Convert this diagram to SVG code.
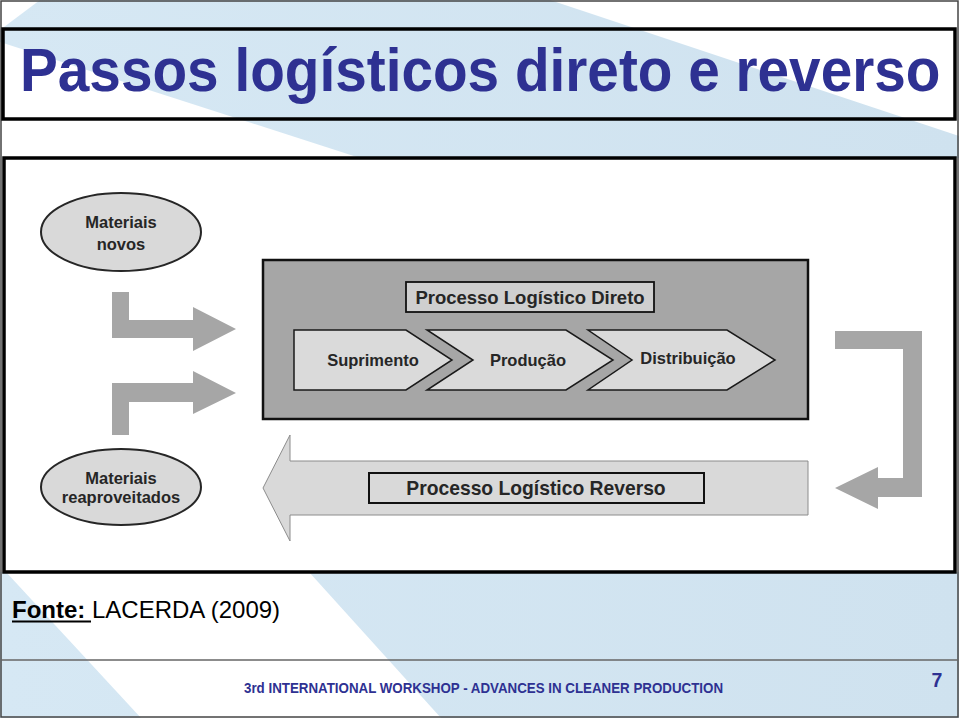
<svg xmlns="http://www.w3.org/2000/svg" width="959" height="718" viewBox="0 0 959 718">
<defs>
<linearGradient id="bg" x1="0" y1="0" x2="1" y2="0">
<stop offset="0" stop-color="#d6e8f4"/>
<stop offset="1" stop-color="#cfe2ef"/>
</linearGradient>
</defs>
<style>
.dk{font-family:"Liberation Sans",Arial,sans-serif;font-weight:bold;fill:#262626;text-anchor:middle}
.flow{fill:#a6a6a6;stroke:none}
.chev{fill:#dadada;stroke:#1a1a1a;stroke-width:1.5}
.ell{fill:#d9d9d9;stroke:#262626;stroke-width:2}
.frame{fill:none;stroke:#000;stroke-width:3.5}
</style>
<rect x="0" y="0" width="959" height="718" fill="#fff"/>
<g id="background">
<polygon points="40,0 550,0 959,136 959,158 360,158 0,42 0,30" fill="url(#bg)"/>
<rect x="0" y="572" width="959" height="146" fill="url(#bg)"/>
<polygon points="6,572 309,572 441,718 141,718" fill="#fff"/>
<rect x="1" y="1" width="957" height="716" fill="none" stroke="#444" stroke-width="1.5"/>
<line x1="1" y1="660" x2="958" y2="660" stroke="#666" stroke-width="1.5"/>
</g>
<g id="title">
<rect x="3" y="29" width="952" height="90" class="frame" stroke-width="3"/>
<text transform="translate(20,91) scale(0.93,1)" x="0" y="0" font-family="'Liberation Sans',Arial,sans-serif" font-weight="bold" font-size="61" fill="#2e3192">Passos logísticos direto e reverso</text>
</g>
<g id="figure">
<rect x="4" y="158" width="951" height="414" fill="#fff" class="frame"/>
</g>
<g id="materiais-novos">
<ellipse cx="121" cy="232" rx="80" ry="39" class="ell"/>
<text class="dk" x="121" y="228" font-size="16.5">Materiais</text>
<text class="dk" x="121" y="250" font-size="16.5">novos</text>
</g>
<g id="materiais-reaproveitados">
<ellipse cx="121" cy="487" rx="80" ry="38" class="ell"/>
<text class="dk" x="121" y="484" font-size="16.5">Materiais</text>
<text class="dk" x="121" y="503" font-size="16.5">reaproveitados</text>
</g>
<g id="processo-direto">
<rect x="263" y="260" width="545" height="159" fill="#a6a6a6" stroke="#111" stroke-width="2.5"/>
<rect x="406" y="282" width="248" height="30" fill="#cfcfcf" stroke="#111" stroke-width="1.8"/>
<text class="dk" x="530" y="304" font-size="18.5">Processo Logístico Direto</text>
</g>
<g id="suprimento">
<polygon class="chev" points="294,330 406,330 452,360 406,390 294,390"/>
<text class="dk" x="373" y="366" font-size="16.5">Suprimento</text>
</g>
<g id="producao">
<polygon class="chev" points="427,330 566,330 613,360 566,390 427,390 473,360"/>
<text class="dk" x="528" y="366" font-size="16.5">Produção</text>
</g>
<g id="distribuicao">
<polygon class="chev" points="588,330 727,330 775,360 727,390 588,390 632,360"/>
<text class="dk" x="688" y="364" font-size="16.5">Distribuição</text>
</g>
<g id="processo-reverso">
<polygon points="808,461 290,461 290,435 263,488 290,541 290,515 808,515" fill="#d9d9d9" stroke="#8c8c8c" stroke-width="1"/>
<rect x="369" y="473" width="335" height="30" fill="#d9d9d9" stroke="#111" stroke-width="2"/>
<text class="dk" x="536" y="495" font-size="19.3">Processo Logístico Reverso</text>
</g>
<g id="connectors">
<polygon class="flow" points="112,292 129,292 129,320 193,320 193,307 236,329 193,351 193,338 112,338"/>
<polygon class="flow" points="112,383 193,383 193,371 236,393 193,414 193,402 129,402 129,435 112,435"/>
<polygon class="flow" points="835,331 922,331 922,497 878,497 878,509 835,488 878,467 878,478 903,478 903,349 835,349"/>
</g>
<g id="fonte">
<text x="12" y="618" font-family="'Liberation Sans',Arial,sans-serif" font-size="24" fill="#000"><tspan font-weight="bold">Fonte:</tspan> LACERDA (2009)</text>
<line x1="12" y1="621.5" x2="91" y2="621.5" stroke="#000" stroke-width="2"/>
</g>
<g id="footer">
<text x="483.5" y="693" font-family="'Liberation Sans',Arial,sans-serif" font-weight="bold" font-size="15" fill="#2e3192" text-anchor="middle" textLength="479" lengthAdjust="spacingAndGlyphs">3rd INTERNATIONAL WORKSHOP - ADVANCES IN CLEANER PRODUCTION</text>
<text x="937" y="687" font-family="'Liberation Sans',Arial,sans-serif" font-weight="bold" font-size="19.5" fill="#2e3192" text-anchor="middle">7</text>
</g>
</svg>
